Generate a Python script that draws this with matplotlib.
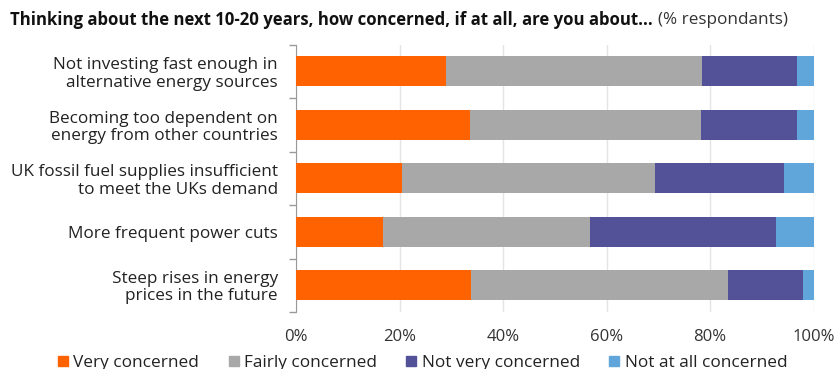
import numpy as np
import matplotlib.pyplot as plt
from matplotlib.lines import Line2D

plt.rcParams['font.family'] = ['Open Sans', 'DejaVu Sans']

concerns = [
    "Not investing fast enough in\nalternative energy sources",
    "Becoming too dependent on\nenergy from other countries",
    "UK fossil fuel supplies insufficient\nto meet the UKs demand",
    "More frequent power cuts",
    "Steep rises in energy\nprices in the future",
]
very = [28.9, 33.7, 20.5, 16.9, 33.9]
fairly = [49.6, 44.6, 48.8, 39.9, 49.6]
not_very = [18.2, 18.4, 25.0, 35.9, 14.4]
not_at_all = [3.3, 3.3, 5.7, 7.3, 2.1]

series = [
    ("Very concerned", very, "#ff6200"),
    ("Fairly concerned", fairly, "#a8a8a8"),
    ("Not very concerned", not_very, "#535299"),
    ("Not at all concerned", not_at_all, "#60a6da"),
]

fig = plt.figure(figsize=(8.39, 3.69), dpi=100)
ax = fig.add_axes([0.3528, 0.1545, 0.617, 0.7245])

y = np.arange(len(concerns))
left = np.zeros(len(concerns))
for name, vals, col in series:
    ax.barh(y, vals, left=left, height=0.56, color=col, label=name, zorder=3)
    left += np.array(vals)

ax.set_xlim(0, 100)
ax.set_ylim(len(concerns) - 0.5, -0.5)
ax.set_xticks(np.arange(0, 101, 20))
ax.set_xticklabels([f"{v}%" for v in range(0, 101, 20)], fontsize=12, color="#333333")
ax.tick_params(axis="x", length=0, pad=12)
ax.set_yticks(y)
ax.set_yticklabels(concerns, fontsize=12.3, color="#222222", linespacing=1.1)
ax.set_yticks(np.arange(-0.5, len(concerns)), minor=True)
ax.tick_params(axis="y", which="major", length=0, pad=13)
ax.tick_params(axis="y", which="minor", length=5, color="#999999", width=1)
ax.grid(axis="x", color="#e4e4e4", linewidth=1, zorder=0)

for s in ["top", "right", "bottom"]:
    ax.spines[s].set_visible(False)
ax.spines["left"].set_color("#999999")

# bold question, then the unit note right after it
title = fig.text(0.012, 0.945, "Thinking about the next 10-20 years, how concerned, if at all, are you about...",
                 fontsize=12.1, fontweight="bold", color="#111111", va="center")
fig.canvas.draw()
bb = title.get_window_extent().transformed(fig.transFigure.inverted())
fig.text(bb.x1 + 0.006, 0.945, "(% respondants)", fontsize=12.3, color="#333333", va="center")

handles = [Line2D([], [], marker="s", linestyle="none", markersize=7.2, color=c) for _, _, c in series]
fig.legend(handles, [n for n, _, _ in series], loc="center left", bbox_to_anchor=(56 / 839, 0.017),
           ncol=4, frameon=False, fontsize=12.4, handlelength=0.8, handletextpad=0.2,
           columnspacing=1.6, borderpad=0, borderaxespad=0, labelcolor="#222222")

fig.savefig("out.png", dpi=100)
